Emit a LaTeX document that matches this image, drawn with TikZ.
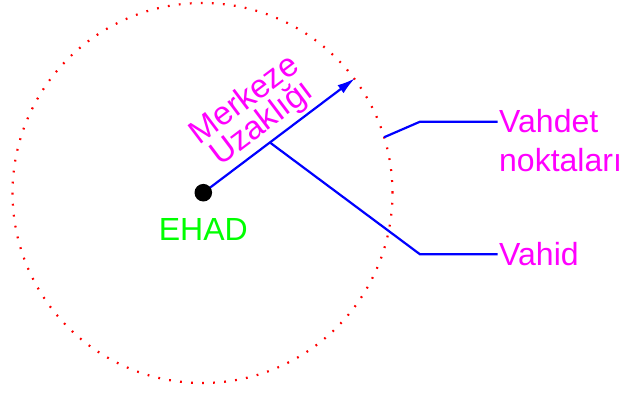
\documentclass[tikz,border=0pt]{standalone}
\usepackage{fontspec}
\setmainfont{Liberation Sans}
\usetikzlibrary{arrows.meta,calc}
\definecolor{mag}{RGB}{255,0,255}
\definecolor{grn}{RGB}{0,255,0}
\definecolor{blu}{RGB}{0,0,255}
\definecolor{rd}{RGB}{255,0,0}
\begin{document}
\begin{tikzpicture}[x=1pt,y=-1pt,
  reddots/.style={draw=rd,line width=2.2pt,dash pattern=on 1.8pt off 9.25pt},
  blueline/.style={draw=blu,line width=2.2pt},
  lbl/.style={inner sep=0pt,font=\fontsize{32}{38}\selectfont},
  maglbl/.style={lbl,text=mag},
]
\useasboundingbox (0,0) rectangle (625,394);
\coordinate (c) at (202.5,193);
\coordinate (ctr) at (203.3,192.7);
\coordinate (tip) at (355,78.3);
\draw[reddots] (c) circle[radius=190pt];
\draw[blueline,-{Latex[length=18pt,width=10pt]}] (ctr) -- (tip);
\coordinate (b) at ($(ctr)!0.439!(tip)$);
\coordinate (vk) at (420,254.3);
\coordinate (vk2) at (497.7,254.3);
\coordinate (p1) at (384,137.3);
\coordinate (p2) at (420,121.7);
\coordinate (p3) at (497.7,121.7);
\draw[blueline] (b) -- (vk) -- (vk2);
\draw[blueline] (p1) -- (p2) -- (p3);
\node[circle,fill=black,inner sep=0pt,minimum size=17.6pt] (dot) at (ctr) {};
\node[lbl,text=grn,anchor=base] (ehad) at (203.3,240) {EHAD};
\node[maglbl,rotate=37,align=center,font=\fontsize{33}{29}\selectfont] (dist) at (253.8,112.2) {Merkeze\\Uzaklığı};
\node[maglbl,anchor=base west] (vd) at (499,132.3) {Vahdet};
\node[maglbl,anchor=base west] (nk) at (499,171) {noktaları};
\node[maglbl,anchor=base west] (vh) at (499,265.7) {Vahid};
\end{tikzpicture}
\end{document}
